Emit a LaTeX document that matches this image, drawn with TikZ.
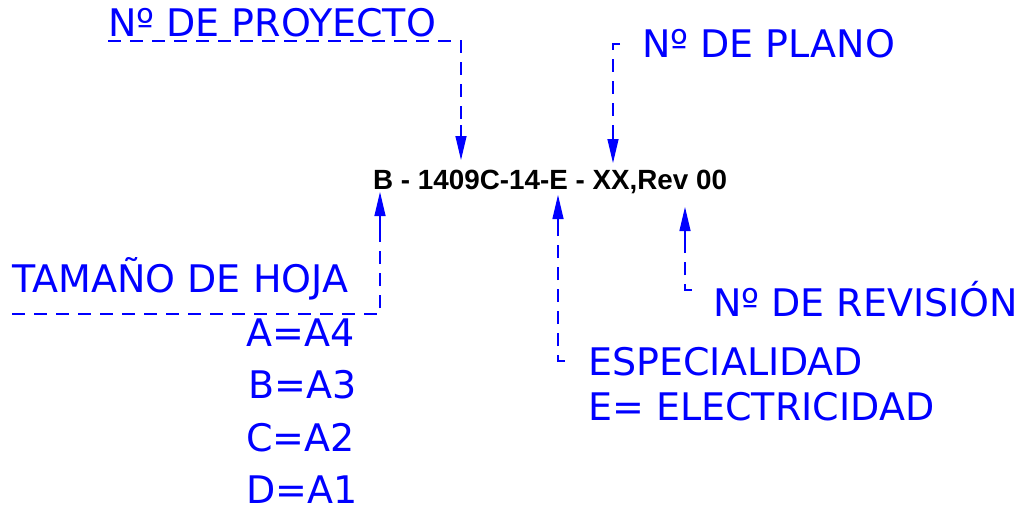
\documentclass[tikz,border=0pt]{standalone}
\usepackage{fontspec}
\setmainfont{DejaVu Sans}
\newfontfamily\codefont{Liberation Sans}
\usetikzlibrary{arrows.meta}
\definecolor{cadblue}{RGB}{0,0,255}
\tikzset{
  lbl/.style={inner sep=0pt, text depth=0pt, anchor=base west, text=cadblue, font=\fontsize{38}{40}\selectfont},
  code/.style={inner sep=0pt, anchor=base west, text=black, font=\codefont\bfseries\fontsize{27.8}{30}\selectfont},
  leader/.style={draw=cadblue, line width=1.3pt, dash pattern=on 13pt off 9pt},
  tipline/.style={draw=cadblue, line width=1.3pt, -{Triangle[length=24pt,width=11pt]}},
}
\begin{document}
\begin{tikzpicture}[x=1pt,y=-1pt]
\useasboundingbox (0,0) rectangle (1026,512);

% part number
\node[code] (code) at (373,189) {B - 1409C-14-E - XX,Rev 00};

% labels
\node[lbl] (proy)  at (108,36)  {Nº DE PROYECTO};
\node[lbl] (plano) at (642,57)  {Nº DE PLANO};
\node[lbl] (hoja)  at (12,292)  {TAMAÑO DE HOJA};
\node[lbl] (rev)   at (713,316) {Nº DE REVISIÓN};
\node[lbl] (esp)   at (588,375) {ESPECIALIDAD};
\node[lbl] (elec)  at (588,420) {E= ELECTRICIDAD};
\node[lbl] (a4)    at (246,346) {A=A4};
\node[lbl] (a3)    at (248,398) {B=A3};
\node[lbl] (a2)    at (246,451) {C=A2};
\node[lbl] (a1)    at (246,503) {D=A1};

% leader points
\coordinate (proyS) at (108,41);
\coordinate (proyC) at (461,41);
\coordinate (proyE) at (461,125);
\coordinate (proyT) at (461,160);

\coordinate (planoS) at (620,44);
\coordinate (planoC) at (613,44);
\coordinate (planoE) at (613,128);
\coordinate (planoT) at (613,163);

\coordinate (hojaS) at (12,314);
\coordinate (hojaC) at (380,314);
\coordinate (hojaE) at (380,230);
\coordinate (hojaT) at (380,192);

\coordinate (espS) at (565,361);
\coordinate (espC) at (558,361);
\coordinate (espE) at (558,233);
\coordinate (espT) at (558,195);

\coordinate (revS) at (692,290);
\coordinate (revC) at (685,290);
\coordinate (revE) at (685,245);
\coordinate (revT) at (685,207);

% leaders
\draw[leader] (proyS) -- (proyC) -- (proyE);
\draw[tipline] (proyE) -- (proyT);

\draw[leader] (planoS) -- (planoC) -- (planoE);
\draw[tipline] (planoE) -- (planoT);

\draw[leader] (hojaS) -- (hojaC) -- (hojaE);
\draw[tipline] (hojaE) -- (hojaT);

\draw[leader] (espS) -- (espC) -- (espE);
\draw[tipline] (espE) -- (espT);

\draw[leader] (revS) -- (revC) -- (revE);
\draw[tipline] (revE) -- (revT);
\end{tikzpicture}
\end{document}
